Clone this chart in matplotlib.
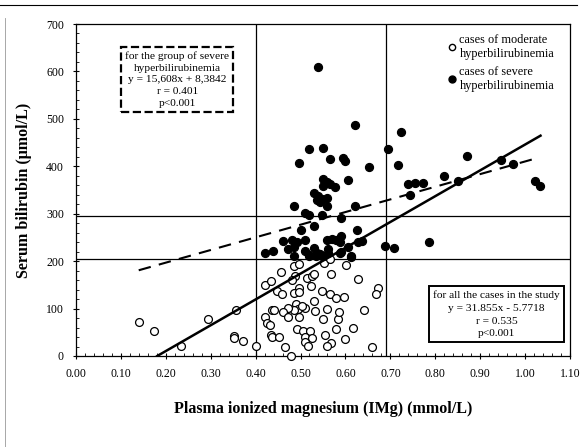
import numpy as np
import matplotlib
matplotlib.use("Agg")
import matplotlib.pyplot as plt
from matplotlib.lines import Line2D

plt.rcParams['font.family'] = ['Liberation Serif', 'DejaVu Serif']

# severe hyperbilirubinemia (filled)
severe_x = [0.538, 0.621, 0.518, 0.551, 0.497, 0.565, 0.595, 0.599, 0.652, 0.695,
            0.723, 0.717, 0.870, 0.820, 0.850, 0.945, 0.973, 1.021, 1.032, 0.739,
            0.754, 0.772, 0.744, 0.687, 0.708, 0.787, 0.551, 0.558, 0.566, 0.577,
            0.549, 0.606, 0.531, 0.540, 0.536, 0.547, 0.558, 0.560, 0.544, 0.485,
            0.621, 0.510, 0.518, 0.547, 0.591, 0.531, 0.501, 0.626, 0.462, 0.481,
            0.492, 0.510, 0.473, 0.485, 0.422, 0.439, 0.510, 0.529, 0.536, 0.544,
            0.534, 0.519, 0.551, 0.558, 0.569, 0.579, 0.591, 0.588, 0.562, 0.591,
            0.606, 0.613, 0.628, 0.637, 0.485, 0.518, 0.547, 0.562, 0.588, 0.613]
severe_y = [609, 487, 437, 439, 407, 416, 418, 412, 398, 437,
            473, 402, 421, 379, 369, 414, 405, 369, 359, 363,
            365, 364, 339, 231, 228, 241, 373, 366, 362, 357,
            359, 372, 344, 337, 328, 330, 333, 317, 324, 316,
            317, 302, 298, 297, 292, 275, 266, 266, 243, 245,
            240, 245, 226, 230, 218, 221, 221, 228, 218, 216,
            210, 210, 210, 244, 247, 244, 254, 240, 226, 220,
            229, 210, 240, 242, 211, 213, 211, 217, 218, 208]

# moderate hyperbilirubinemia (open)
moderate_x = [0.140, 0.175, 0.235, 0.295, 0.357, 0.352, 0.352, 0.372, 0.400, 0.422,
              0.435, 0.456, 0.448, 0.459, 0.486, 0.496, 0.488, 0.482, 0.496, 0.485,
              0.496, 0.514, 0.525, 0.530, 0.523, 0.547, 0.553, 0.566, 0.568, 0.566,
              0.580, 0.597, 0.602, 0.628, 0.673, 0.669, 0.529, 0.509, 0.490, 0.494,
              0.485, 0.473, 0.462, 0.472, 0.503, 0.497, 0.437, 0.442, 0.422, 0.425,
              0.433, 0.434, 0.437, 0.453, 0.465, 0.479, 0.492, 0.505, 0.521, 0.510,
              0.525, 0.510, 0.516, 0.532, 0.551, 0.560, 0.583, 0.586, 0.555, 0.580,
              0.568, 0.558, 0.600, 0.617, 0.641, 0.658]
moderate_y = [71, 52, 22, 78, 96, 42, 37, 32, 22, 149,
              159, 177, 137, 130, 190, 194, 168, 161, 144, 132,
              134, 164, 168, 173, 148, 137, 197, 204, 173, 130,
              122, 125, 192, 163, 143, 130, 115, 101, 109, 99,
              97, 101, 92, 83, 106, 83, 96, 97, 83, 69,
              65, 44, 41, 41, 18, 1, 56, 53, 53, 41,
              37, 30, 21, 94, 77, 99, 77, 92, 44, 56,
              28, 21, 35, 58, 97, 18]

# regression fits (mg/dL equations, converted to umol/L)
conv = 17.1
all_fit = (31.855, -5.7718)
severe_fit = (15.608, 8.3842)
all_range = (-all_fit[1] / all_fit[0], 1.034)
severe_range = (0.14, 1.03)

# cut-off lines
vlines = [0.40, 0.69]
hlines = [205, 295]

fig = plt.figure(figsize=(5.83, 4.47), dpi=100)
ax = fig.add_axes([0.130, 0.2036, 0.848, 0.7427])

for v in vlines:
    ax.axvline(v, color='black', lw=0.9, zorder=1)
for h in hlines:
    ax.axhline(h, color='black', lw=0.9, zorder=1)

ax.scatter(moderate_x, moderate_y, s=32, facecolors='white', edgecolors='black',
           linewidths=0.9, zorder=3, clip_on=False)
ax.scatter(severe_x, severe_y, s=32, color='black', zorder=3)

xs = np.linspace(*all_range, 2)
ax.plot(xs, conv * (all_fit[0] * xs + all_fit[1]), color='black', lw=1.8, zorder=4)
xs = np.linspace(*severe_range, 2)
ax.plot(xs, conv * (severe_fit[0] * xs + severe_fit[1]), color='black', lw=1.5,
        ls=(0, (6, 4)), zorder=4)

ax.set_xlim(0, 1.1)
ax.set_ylim(0, 700)
ax.set_xticks(np.arange(0, 1.11, 0.1))
ax.set_xticklabels(['%.2f' % t for t in np.arange(0, 1.11, 0.1)])
ax.set_xticks(np.arange(0, 1.1, 0.02), minor=True)
ax.set_yticks(np.arange(0, 701, 100))
ax.set_yticks(np.arange(0, 700, 20), minor=True)
ax.tick_params(which='major', direction='inout', length=5, width=0.8, labelsize=8.5, pad=6)
ax.tick_params(which='minor', direction='in', length=2.5, width=0.6)
for s in ax.spines.values():
    s.set_linewidth(0.9)

ax.set_ylabel('Serum bilirubin (\u03bcmol/L)', fontsize=11.5, fontweight='bold', labelpad=10)
ax.set_xlabel('Plasma ionized magnesium (IMg) (mmol/L)', fontsize=11.5,
              fontweight='bold', labelpad=15)

ax.text(0.226, 583, 'for the group of severe\nhyperbilirubinemia\ny = 15,608x + 8,3842\nr = 0.401\np<0.001',
        ha='center', va='center', fontsize=8.2, linespacing=1.4,
        bbox=dict(boxstyle='square,pad=0.35', fc='white', ec='black', lw=1.6, ls='--'))
ax.text(0.936, 88, 'for all the cases in the study\ny = 31.855x - 5.7718\nr = 0.535\np<0.001',
        ha='center', va='center', fontsize=8.2, linespacing=1.55,
        bbox=dict(boxstyle='square,pad=0.35', fc='white', ec='black', lw=1.4))

handles = [Line2D([], [], ls='', marker='o', ms=4.5, mfc='white', mec='black'),
           Line2D([], [], ls='', marker='o', ms=5, color='black')]
ax.legend(handles, ['cases of moderate\nhyperbilirubinemia', 'cases of severe\nhyperbilirubinemia'],
          loc='upper right', bbox_to_anchor=(0.985, 0.995), frameon=False, fontsize=8.8,
          handletextpad=0.1, handlelength=1.0, labelspacing=0.5, borderaxespad=0.3)

# scan frame lines
fig.add_artist(Line2D([0, 0.99], [0.989, 0.989], color='black', lw=0.8))
fig.add_artist(Line2D([0.009, 0.009], [0.0, 0.96], color='0.6', lw=0.6))

fig.savefig('out.png', dpi=100)
